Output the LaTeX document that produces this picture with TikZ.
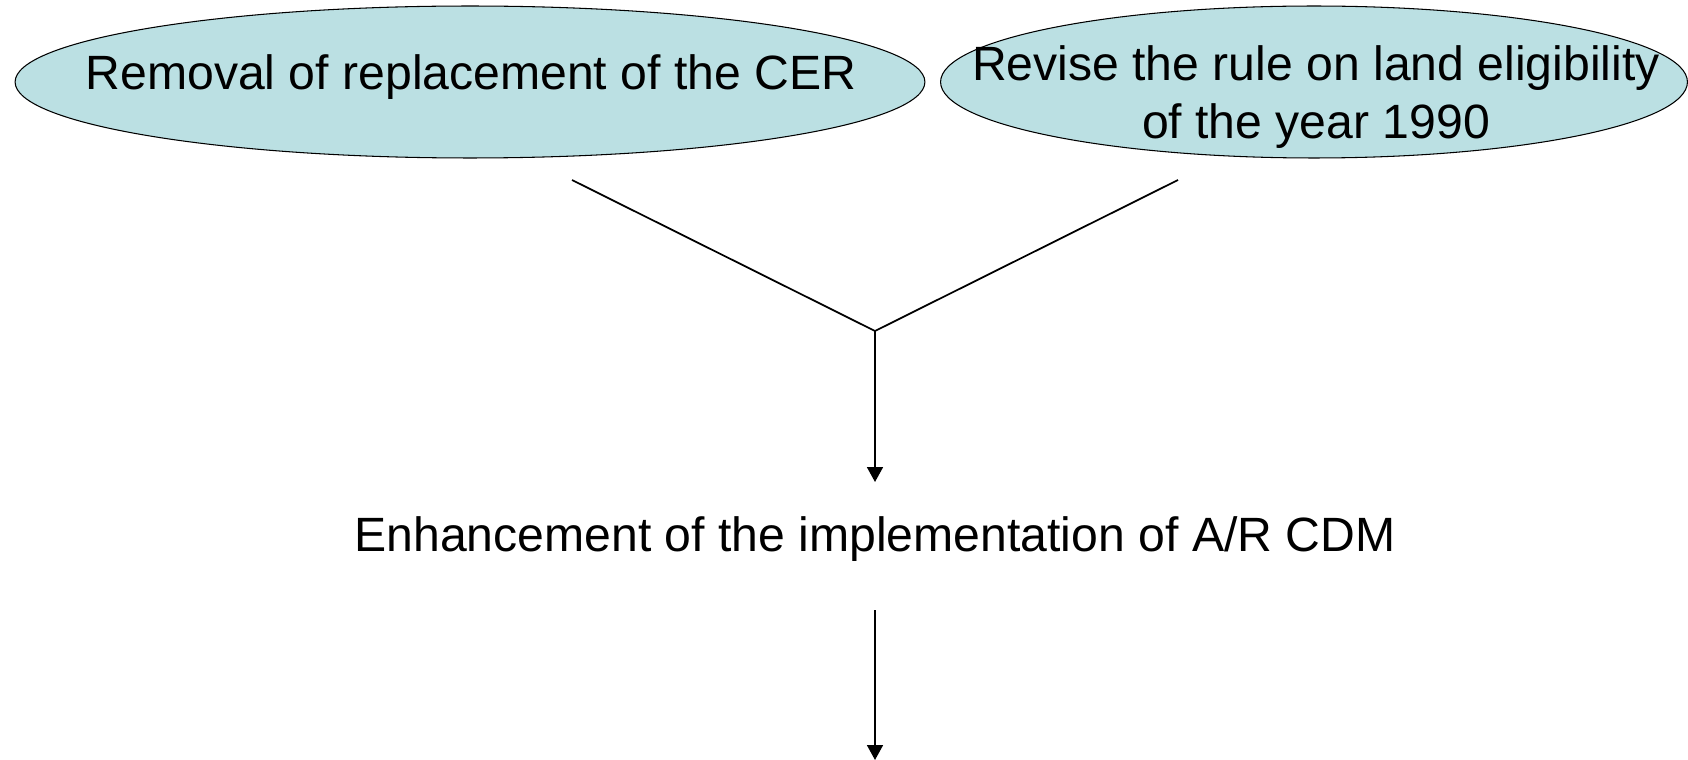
\documentclass[tikz,border=0pt]{standalone}
\usepackage{fontspec}
\setmainfont{Liberation Sans}
\usetikzlibrary{shapes.geometric,arrows.meta,positioning}
\definecolor{paleblue}{RGB}{187,224,227}

\begin{document}
\begin{tikzpicture}[x=0.02cm,y=-0.02cm]

\tikzset{causenode/.style={shape=ellipse,draw=black,fill=paleblue,line width=0.6pt,inner sep=0pt,minimum height=3.04cm},
causetext/.style={font=\fontsize{27.4}{32.9}\selectfont,align=center,inner sep=0pt},
link/.style={line width=1pt},
flow/.style={line width=1pt,-{Triangle[width=0.32cm,length=0.3cm]}}}

\useasboundingbox (0,0) rectangle (1688,760);

% Causes
\node [causenode,minimum width=18.2cm] (cer) at (470,82) {};
\node [causenode,minimum width=14.94cm] (land) at (1314,82) {};
\node [causetext] (certext) at (471,77) {Removal of replacement of the CER};
\node [causetext] (landtext) at (1316,97) {Revise the rule on land eligibility\\of the year 1990};

% Junction and result
\coordinate (cerfoot) at (572,180);
\coordinate (landfoot) at (1178,180);
\coordinate (join) at (875,331);
\coordinate (joinend) at (875,482);
\node [causetext] (cdm) at (875,539) {Enhancement of the implementation of A/R CDM};
\coordinate (cdmfoot) at (875,610);
\coordinate (out) at (875,760);

% Edges
\draw[link] (cerfoot) -- (join); \draw[link] (landfoot) -- (join);
\draw[flow] (join) -- (joinend);
\draw[flow] (cdmfoot) -- (out);

\end{tikzpicture}
\end{document}
